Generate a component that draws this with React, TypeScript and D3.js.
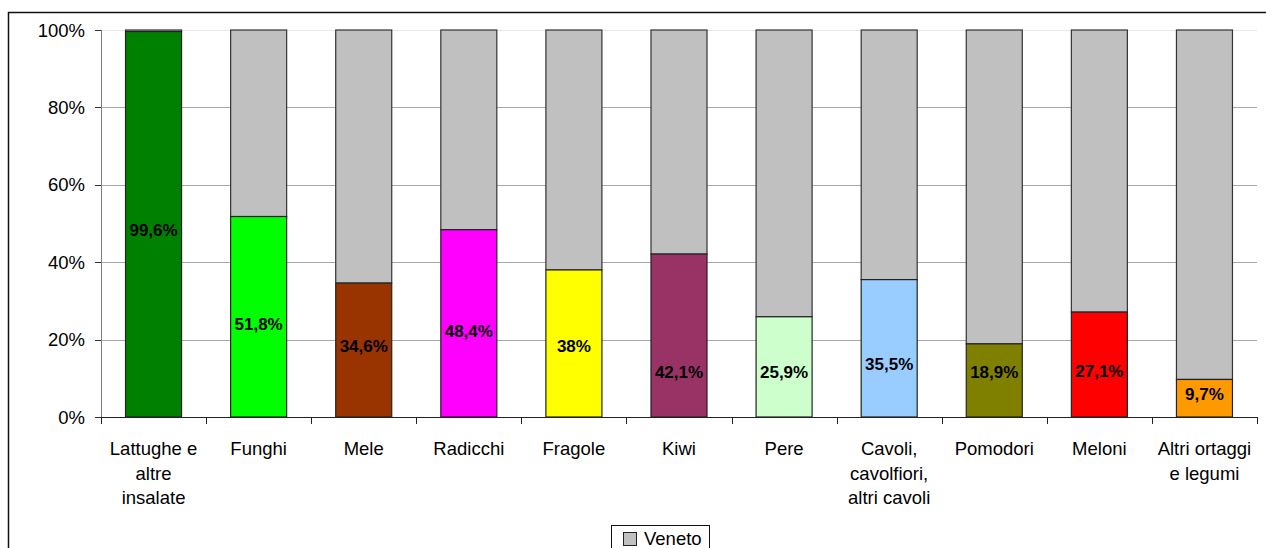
import React from "react";
import * as d3 from "d3";

// Products and the share (%) of each one attributed to its own colour
const categories: string[][] = [
  ["Lattughe e", "altre", "insalate"],
  ["Funghi"],
  ["Mele"],
  ["Radicchi"],
  ["Fragole"],
  ["Kiwi"],
  ["Pere"],
  ["Cavoli,", "cavolfiori,", "altri cavoli"],
  ["Pomodori"],
  ["Meloni"],
  ["Altri ortaggi", "e legumi"],
];
const shares: number[] = [99.6, 51.8, 34.6, 48.4, 38, 42.1, 25.9, 35.5, 18.9, 27.1, 9.7];
const shareLabels: string[] = ["99,6%", "51,8%", "34,6%", "48,4%", "38%", "42,1%", "25,9%", "35,5%", "18,9%", "27,1%", "9,7%"];
const yTicks: number[] = [0, 20, 40, 60, 80, 100];
const seriesName = "Veneto";

// Fill for each product's own segment
const productColors: string[] = [
  "#008000", "#00ff00", "#993300", "#ff00ff", "#ffff00", "#993366",
  "#ccffcc", "#99ccff", "#808000", "#ff0000", "#ff9900",
];
// Vertical nudge (px) of each data label from its segment centre
const labelShiftPx: number[] = [6, 7, -4, 8, 2.5, 36, 4.6, 15.7, -9, 6.5, -4];

const FONT = "'Liberation Sans', Arial, Helvetica, sans-serif";
const W = 1266;
const H = 548;
const plot = { left: 101, right: 1257, top: 30, bottom: 417 };

export default function App() {
  const keys = categories.map((c) => c.join(" "));
  const x = d3
    .scaleBand<string>()
    .domain(keys)
    .range([plot.left, plot.right])
    .paddingInner(0.467)
    .paddingOuter(0.2335);
  const y = d3.scaleLinear().domain([0, 100]).range([plot.bottom, plot.top]);
  const step = x.step();
  const bw = x.bandwidth();
  const half = (step - bw) / 2;

  return (
    <svg
      width={W}
      height={H}
      style={{ position: "absolute", left: 0, top: 0, display: "block", background: "#fff" }}
      fontFamily={FONT}
    >
      {/* outer chart frame */}
      <rect x={8.5} y={12.5} width={W + 20} height={H + 20} fill="#fff" stroke="#111" strokeWidth={1.5} />

      {/* horizontal gridlines */}
      {yTicks.filter((t) => t > 0).map((t) => (
        <line
          key={"g" + t}
          x1={plot.left}
          x2={plot.right}
          y1={Math.round(y(t)) + 0.5}
          y2={Math.round(y(t)) + 0.5}
          stroke={t === 100 ? "#e6e6e6" : "#a8a8a8"}
          strokeWidth={1}
        />
      ))}

      {/* stacked bars: product share + Veneto remainder */}
      {keys.map((k, i) => {
        const x0 = x(k)!;
        const yTop = y(100);
        const ySplit = y(shares[i]);
        const yBase = y(0);
        return (
          <g key={"b" + i}>
            <rect x={x0} y={yTop} width={bw} height={ySplit - yTop} fill="#c0c0c0" stroke="#333" strokeWidth={1.2} />
            <rect x={x0} y={ySplit} width={bw} height={yBase - ySplit} fill={productColors[i]} stroke="#222" strokeWidth={1.2} />
          </g>
        );
      })}

      {/* data labels */}
      {keys.map((k, i) => {
        const cx = x(k)! + bw / 2;
        const cy = (y(shares[i]) + y(0)) / 2 + labelShiftPx[i];
        return (
          <text
            key={"l" + i}
            x={cx}
            y={cy}
            dy="0.36em"
            textAnchor="middle"
            fontSize={17}
            fontWeight="bold"
            fill="#000"
          >
            {shareLabels[i]}
          </text>
        );
      })}

      {/* y axis */}
      <line x1={plot.left + 0.5} x2={plot.left + 0.5} y1={plot.top} y2={plot.bottom} stroke="#808080" strokeWidth={1} />
      {yTicks.map((t) => (
        <g key={"yt" + t}>
          <line x1={plot.left - 6} x2={plot.left} y1={Math.round(y(t)) + 0.5} y2={Math.round(y(t)) + 0.5} stroke="#333" />
          <text x={85} y={y(t)} dy="0.36em" textAnchor="end" fontSize={18.5} fill="#000">
            {t}%
          </text>
        </g>
      ))}

      {/* x axis */}
      <line x1={plot.left} x2={plot.right} y1={plot.bottom + 0.5} y2={plot.bottom + 0.5} stroke="#222" strokeWidth={1} />
      {keys.map((k, i) => {
        const tx = Math.round(x(k)! - half) + 0.5;
        return <line key={"xt" + i} x1={tx} x2={tx} y1={plot.bottom} y2={plot.bottom + 7} stroke="#222" />;
      })}
      <line
        x1={Math.round(plot.right) + 0.5}
        x2={Math.round(plot.right) + 0.5}
        y1={plot.bottom}
        y2={plot.bottom + 7}
        stroke="#222"
      />
      {categories.map((lines, i) => {
        const cx = x(keys[i])! + bw / 2;
        return (
          <text key={"xl" + i} x={cx} y={455} textAnchor="middle" fontSize={18.5} fill="#000">
            {lines.map((ln, j) => (
              <tspan key={j} x={cx} dy={j === 0 ? 0 : 24.5}>
                {ln}
              </tspan>
            ))}
          </text>
        );
      })}

      {/* legend */}
      <rect x={611.5} y={525.5} width={98} height={40} fill="#fff" stroke="#111" strokeWidth={1} />
      <rect x={623.5} y={532.5} width={13} height={13} fill="#c0c0c0" stroke="#222" strokeWidth={1} />
      <text x={644} y={545} fontSize={18.5} fill="#000">
        {seriesName}
      </text>
    </svg>
  );
}
